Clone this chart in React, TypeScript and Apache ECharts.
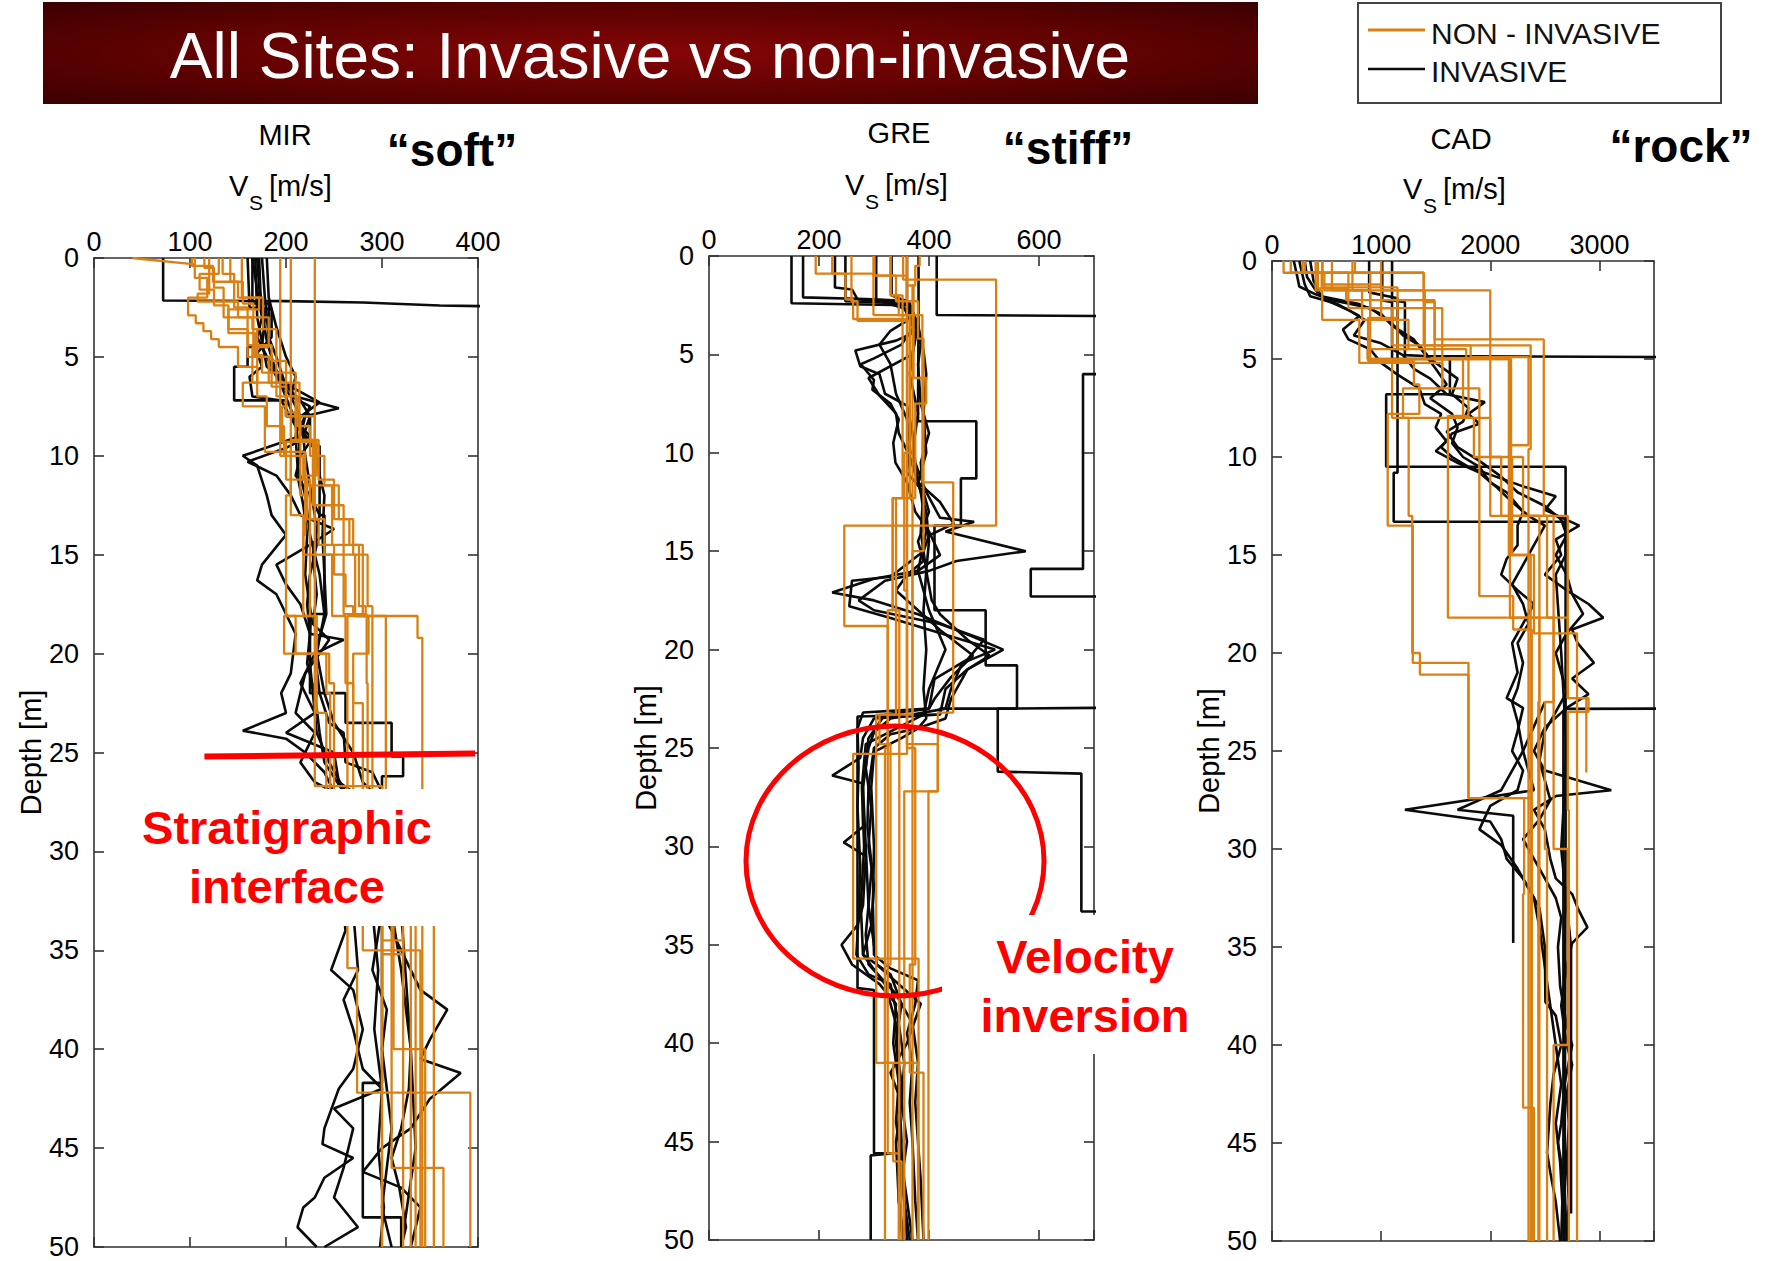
import React, { useEffect, useRef } from "react";
import * as echarts from "echarts";

type Pt = [number, number];

// ---------- texts ----------
const titleText = "All Sites: Invasive vs non-invasive";
const legendLabels = ["NON - INVASIVE", "INVASIVE"];
const panelNames = ["MIR", "GRE", "CAD"];
const panelTags = ["“soft”", "“stiff”", "“rock”"];
const depthName = "Depth [m]";
const annotation1 = ["Stratigraphic", "interface"];
const annotation2 = ["Velocity", "inversion"];

// ---------- axes ----------
const depthTicks = { min: 0, max: 50, interval: 5 };
const mirVsTicks = { min: 0, max: 400, interval: 100 };
const greVsTicks = { min: 0, max: 700, interval: 200 };
const cadVsTicks = { min: 0, max: 3500, interval: 1000 };

// ---------- MIR ("soft") : [Vs, bottom depth] layers ----------
const mirOrangeSteps: Pt[][] = [
  [[130, 0.8], [110, 1.6], [125, 2.4], [140, 3.6], [160, 5.0], [185, 6.5], [200, 8.0], [215, 9.2], [234, 11.2], [250, 13.2], [266, 14.5], [280, 18.1], [337, 19.2], [342, 35.2], [342, 50]],
  [[105, 1.0], [118, 2.0], [98, 2.9], [106, 3.3], [114, 3.7], [122, 4.1], [130, 4.5], [150, 5.5], [170, 7.0], [180, 8.5], [198, 10], [218, 11.2], [222, 13.2], [234, 14.5], [250, 16], [262, 17.6], [270, 18.1], [304, 20], [304, 27], [300, 50]],
  [[142, 1.2], [155, 2.3], [166, 4.9], [175, 5.8], [190, 7.0], [212, 8.5], [225, 10], [240, 11.5], [255, 13.2], [270, 15], [285, 17.6], [290, 20], [290, 27], [264, 35.9], [274, 42.2], [392, 50]],
  [[230, 26.7], [300, 34.5], [322, 50]],
  [[194, 10], [205, 13], [218, 15], [225, 18.1], [198, 20], [245, 21.5], [250, 27], [330, 50]],
  [[205, 9.2], [215, 12], [225, 15], [248, 18.1], [262, 21.5], [270, 27], [354, 50]],
  [[115, 0.5], [125, 1.5], [135, 3.0], [165, 3.6], [190, 5.8], [210, 8.0], [230, 9.3], [200, 11.2], [225, 13.2], [240, 15], [260, 18], [284, 21.5], [285, 27], [310, 46], [364, 50]],
  [[102, 0.4], [124, 1.2], [150, 2.0], [176, 3.6], [170, 6.3], [155, 7.5], [178, 9.8], [220, 11.5], [248, 14.5], [276, 17.6], [283, 18.1], [264, 21.4], [264, 27], [280, 35], [340, 50]],
  [[120, 1.8], [108, 2.2], [150, 3.0], [182, 4.5], [165, 6.3], [200, 7.5], [196, 9.3], [205, 12], [200, 18.1], [210, 20], [242, 22], [246, 27], [322, 35.2], [300, 50]],
  [[154, 2.0], [172, 2.6], [140, 3.8], [168, 5], [182, 6.3], [214, 9.3], [232, 11], [220, 14], [218, 18.1], [232, 23], [242, 27], [335, 50]],
  [[134, 0.8], [146, 2.5], [160, 4.4], [185, 5.2], [200, 7.8], [210, 9.2], [228, 12.5], [260, 15], [272, 18.1], [286, 20], [270, 22.5], [280, 27], [312, 40], [345, 50]],
];
const mirOrangeLines: Pt[][] = [
  [[40, 0], [100, 0.3], [106, 0.35]],
];
const mirBlackLines: Pt[][] = [
  [[72, 0], [72, 2.15], [200, 2.18], [280, 2.25], [360, 2.4], [420, 2.45]],
  [[165, 0], [168, 1], [172, 2.2], [175, 3], [170, 4], [180, 5], [195, 6], [210, 7], [255, 7.6], [220, 8], [215, 9], [155, 10], [170, 10.5], [180, 12], [185, 13], [200, 14], [175, 15.5], [170, 16.3], [190, 17], [200, 18], [210, 19], [205, 21], [195, 22], [200, 23], [155, 23.9], [200, 24.3], [220, 25], [240, 26], [250, 27], [260, 33], [262, 34], [247, 36], [270, 37], [280, 39], [270, 41], [255, 42], [240, 44], [238, 44.8], [270, 45.5], [240, 46.5], [230, 47.5], [218, 48], [212, 49], [232, 50]],
  [[170, 0], [172, 1.5], [178, 3], [175, 4.5], [190, 6], [205, 7], [225, 7.5], [215, 8.5], [225, 9], [200, 9.6], [160, 10.3], [190, 11], [205, 12], [215, 13], [250, 13.7], [225, 14.5], [190, 15.5], [200, 16.5], [215, 17.5], [225, 19], [260, 19.3], [230, 20], [215, 21.5], [230, 23], [200, 24], [250, 25], [255, 26.5], [270, 27], [300, 33], [330, 36], [340, 37], [368, 38], [350, 39.5], [340, 40.5], [382, 41.2], [350, 42.5], [330, 44], [300, 45], [280, 46.2], [320, 47], [340, 48], [330, 50]],
  [[175, 0], [178, 2], [182, 4], [190, 5], [200, 6.5], [215, 7.2], [225, 8], [218, 9], [220, 10], [225, 11.5], [230, 13], [232, 14.5], [225, 16], [222, 17.5], [225, 19], [222, 20.5], [230, 22], [235, 24], [240, 25.5], [260, 27], [300, 33], [290, 36], [305, 38], [300, 40], [305, 42], [310, 44], [305, 46], [300, 48], [310, 50]],
  [[160, 0], [162, 2.5], [185, 2.6], [185, 4], [170, 4.8], [175, 5.5], [162, 6], [165, 7.0], [195, 7.2], [210, 8.5], [230, 9.5], [235, 11], [240, 12], [238, 14], [240, 16], [242, 18], [230, 20], [235, 22], [245, 23.5], [260, 24], [262, 25.5], [290, 26], [300, 27], [320, 33], [330, 40], [335, 45], [320, 50]],
  [[168, 0], [170, 3], [180, 5.5], [205, 6.5], [235, 7.3], [210, 8.2], [225, 9.3], [215, 10], [210, 11], [225, 12], [235, 13], [228, 15], [232, 17], [228, 18.5], [245, 19.3], [235, 20], [220, 21], [215, 22], [210, 23], [230, 24], [215, 25.5], [230, 26.5], [250, 27], [270, 33], [275, 36], [260, 37.5], [270, 39], [280, 41], [300, 42], [250, 43], [270, 44], [260, 46], [250, 47.5], [275, 49], [240, 50]],
  [[180, 0], [182, 2], [190, 3.5], [200, 5], [210, 6], [205, 7], [215, 8], [210, 9], [212, 10.5], [220, 12], [225, 14], [235, 16], [240, 18], [232, 20], [240, 22], [250, 23.5], [270, 25], [280, 26.5], [290, 27], [310, 33], [320, 36], [325, 38], [330, 40], [328, 42], [320, 44], [310, 45.5], [318, 47], [325, 49], [320, 50]],
  [[172, 0], [174, 2.5], [180, 4.2], [188, 5.5], [198, 6.8], [208, 8], [214, 9.5], [212, 11], [218, 12.5], [222, 14], [220, 16], [226, 18], [224, 20], [228, 22], [232, 24], [245, 25.5], [262, 27], [290, 33], [296, 36], [292, 39], [300, 42], [296, 45], [302, 48], [298, 50]],
];
const mirBlackSteps: Pt[][] = [
  [[165, 2.3], [182, 4.5], [160, 5.5], [146, 7.2], [200, 8], [225, 9.5], [235, 13], [240, 18], [225, 22], [262, 23.5], [310, 25.2], [322, 26.2], [300, 34], [300, 41.7], [280, 48.5], [320, 50]],
];
const mirInterfaceLine: Pt[] = [[115, 25.2], [397, 25.05]];

// ---------- GRE ("stiff") ----------
const greOrangeSteps: Pt[][] = [
  [[194, 0.9], [259, 2.3], [270, 3.3], [365, 12.3], [334, 18.0], [325, 45.6], [345, 50]],
  [[224, 0.9], [248, 2.2], [262, 3.2], [360, 25.3], [262, 35.7], [381, 50]],
  [[353, 1.2], [522, 13.7], [246, 18.8], [325, 25.0], [320, 50]],
  [[330, 2.0], [345, 3.0], [388, 11.5], [444, 23.2], [416, 27.2], [399, 50]],
  [[301, 1.0], [360, 1.5], [372, 6.2], [395, 7.5], [375, 12.3], [340, 23.3], [304, 41.0], [380, 50]],
  [[383, 0.5], [375, 1.5], [370, 50]],
  [[259, 0.9], [299, 3.0], [365, 10], [355, 17], [360, 25], [375, 36], [365, 41.5], [390, 50]],
  [[299, 1.0], [340, 2.3], [380, 4.2], [390, 15], [370, 23.3], [310, 24.8], [330, 36], [320, 41], [335, 46], [350, 50]],
  [[360, 24.8], [416, 27.2], [355, 50]],
  [[330, 2.0], [352, 12.3], [334, 18], [346, 50]],
];
const greBlackLines: Pt[][] = [
  [[150, 0], [150, 2.4], [360, 2.5], [375, 3.5], [350, 4.5], [300, 5.2], [276, 5.5], [300, 6.3], [297, 6.8], [330, 7.5], [345, 8.3], [335, 9.5], [339, 10.5], [360, 11.5], [375, 13], [400, 14], [420, 15.2], [380, 16], [300, 16.4], [224, 17.1], [300, 17.5], [380, 18.2], [450, 19], [535, 20], [470, 21], [430, 22], [420, 23.3], [300, 23.5], [280, 24.5], [275, 25.5], [224, 26.4], [280, 26.8], [280, 29], [245, 29.8], [285, 30.5], [280, 33], [270, 34], [241, 35], [260, 36], [310, 37], [340, 38], [335, 40], [345, 42], [340, 44], [350, 46], [355, 48], [360, 50]],
  [[171, 0], [171, 2.1], [300, 2.2], [360, 2.7], [380, 3.8], [340, 4.3], [266, 4.8], [275, 5.6], [310, 6.0], [320, 7.0], [360, 7.6], [370, 9], [375, 10.5], [395, 12], [420, 13.3], [482, 13.5], [430, 14], [576, 15], [450, 15.5], [400, 16], [320, 16.5], [272, 17.5], [300, 18], [420, 18.7], [500, 19.5], [470, 20.5], [410, 21.5], [400, 23], [320, 23.3], [290, 24.5], [285, 26], [295, 28], [290, 30], [300, 32], [295, 34], [280, 35.5], [330, 36.5], [350, 38], [340, 40], [350, 42], [345, 44], [355, 47], [370, 50]],
  [[229, 0], [229, 1.6], [260, 1.7], [270, 2.2], [365, 2.4], [380, 3.5], [370, 5], [290, 6.2], [310, 7.1], [340, 8.0], [345, 9], [365, 10.2], [380, 11.5], [420, 12.5], [445, 13.6], [400, 14.2], [390, 15], [330, 16.3], [260, 16.5], [255, 17.8], [330, 18.4], [460, 19.5], [520, 20], [460, 20.7], [440, 22], [430, 23], [330, 23.5], [300, 24.2], [290, 25], [280, 27], [285, 30], [290, 33], [300, 35], [305, 36], [345, 37], [385, 38], [360, 40], [330, 41.5], [350, 43], [340, 45], [345, 48], [355, 50]],
  [[248, 0], [248, 2.3], [350, 2.4], [365, 3.2], [330, 3.8], [310, 4.5], [330, 5.5], [340, 7], [360, 8.3], [365, 9.5], [360, 11], [390, 12], [400, 13], [380, 14.5], [390, 15.5], [360, 16.2], [340, 17], [380, 18], [420, 19], [480, 20.3], [440, 21.4], [410, 22.5], [400, 23], [280, 23.2], [270, 24], [272, 26], [270, 28], [275, 31], [272, 33.5], [268, 35.5], [290, 36.5], [330, 37], [345, 39], [355, 41], [350, 43], [360, 45], [350, 47], [365, 50]],
  [[304, 0], [304, 2.2], [360, 2.3], [380, 3.5], [390, 4.8], [395, 6], [390, 8], [395, 10], [380, 11.5], [395, 13], [400, 14.5], [395, 16], [405, 17.5], [420, 18.2], [470, 19.5], [510, 20.3], [470, 21], [440, 22.5], [430, 23.5], [380, 24], [330, 24.3], [300, 25], [290, 27], [288, 29], [296, 31], [290, 33], [285, 34.5], [290, 36], [340, 37.5], [370, 39], [380, 41], [375, 43], [380, 45], [385, 47], [390, 50]],
  [[332, 0], [332, 2.0], [360, 2.3], [372, 3.2], [385, 4.5], [380, 5.5], [385, 7.5], [400, 9], [385, 10.5], [390, 12], [385, 14], [395, 16], [390, 18], [395, 20], [390, 22], [395, 23.5], [380, 24], [350, 24.5], [300, 25.2], [295, 27], [300, 30], [298, 33], [300, 35.5], [330, 36.2], [380, 36.8], [375, 38], [360, 39.5], [370, 41], [365, 43], [370, 45], [375, 48], [380, 50]],
  [[381, 0], [381, 2.8], [380, 8.4], [486, 8.4], [486, 11.3], [458, 11.3], [458, 13.7], [410, 13.7], [410, 18.0], [503, 18.0], [503, 20.8], [560, 20.8], [560, 23.0], [420, 23.0], [420, 23.3], [270, 23.4], [270, 37.2], [300, 37.3], [300, 45.6], [332, 45.6], [294, 45.7], [294, 50]],
  [[414, 0], [414, 3.0], [1000, 3.1], [1000, 6.0], [680, 6.0], [680, 15.9], [585, 15.9], [585, 17.3], [1000, 17.3], [1000, 22.9], [525, 23.0], [525, 26.2], [677, 26.3], [677, 33.3], [1000, 33.4]],
  [[360, 0], [360, 2.6], [375, 4], [365, 6], [380, 8], [370, 10], [385, 12], [395, 14], [380, 16], [400, 18], [430, 20], [400, 22], [390, 23.3], [285, 24.8], [278, 27], [282, 30], [276, 33], [280, 35.5], [320, 37], [340, 39], [345, 42], [350, 45], [345, 48], [352, 50]],
];

// ---------- CAD ("rock") ----------
const cadOrangeSteps: Pt[][] = [
  [[172, 0.6], [1390, 2.1], [1490, 5.0], [2170, 15.0], [2370, 50]],
  [[463, 0.6], [480, 1.5], [2000, 10.0], [2300, 13.0], [2450, 17], [2450, 50]],
  [[549, 1.5], [825, 3.0], [1250, 4.5], [875, 5.0], [1100, 8.0], [1252, 13.0], [1285, 20.0], [1355, 21.1], [1800, 27.4], [2310, 32.3], [2300, 43.2], [2400, 50]],
  [[737, 1.5], [900, 5.0], [1800, 7.9], [1612, 13.0], [1612, 18.2], [2710, 22.3], [2880, 26.1]],
  [[400, 1.5], [460, 3.0], [800, 5.2], [1560, 6.5], [1900, 17.1], [2210, 18.8], [2380, 50]],
  [[300, 0.6], [700, 2.4], [1100, 4.3], [2370, 6.5], [2370, 9.6], [2350, 50]],
  [[420, 1.4], [680, 2.0], [1490, 4.0], [2490, 5.6], [2490, 13.0], [2580, 30], [2710, 40], [2580, 50]],
  [[460, 1.2], [1000, 3.0], [1150, 4.5], [1780, 5.0], [2190, 10.0], [2200, 15.0], [2400, 19], [2795, 29.4], [2795, 50]],
  [[280, 0.6], [900, 2.4], [1560, 6.5], [1200, 8.0], [1850, 10], [2100, 13], [2520, 18.2], [2580, 22.5], [2500, 30], [2520, 50]],
  [[1000, 1.5], [1400, 5], [1750, 8], [2000, 13], [2710, 22.3], [2900, 23], [2710, 28], [2720, 50]],
  [[106, 0.6], [455, 1.35], [1150, 2.9], [880, 5.1], [1300, 6.3], [1350, 7.8], [1060, 13.5], [1290, 20.5], [1800, 27.4], [2380, 50]],
  [[760, 0.6], [1390, 4.3], [1820, 4.9], [2350, 9.4], [2180, 18.2], [2450, 22.5], [2440, 50]],
];
const cadBlackLines: Pt[][] = [
  [[250, 0], [270, 0.5], [300, 1.2], [350, 1.8], [600, 2.2], [800, 2.8], [650, 3.5], [700, 4.0], [900, 4.5], [1000, 5.2], [1150, 5.8], [1350, 6.5], [1400, 7.3], [1550, 7.8], [1500, 8.5], [1600, 9.2], [1500, 9.7], [1700, 10.3], [1900, 10.8], [2050, 11.5], [2200, 12.3], [2350, 13], [2500, 13.5], [2400, 14.5], [2300, 15.5], [2200, 16.5], [2300, 17.5], [2350, 18.5], [2250, 19.5], [2300, 20.5], [2250, 21.8], [2200, 22.5], [2250, 23.5], [2300, 25], [2350, 26], [2400, 27], [1218, 28.0], [2000, 28.6], [2100, 29.5], [2150, 30.5], [2300, 31.5], [2400, 32.5], [2450, 34], [2500, 36], [2550, 38], [2600, 40], [2650, 42], [2600, 44], [2640, 46], [2660, 48], [2650, 50]],
  [[300, 0], [320, 0.8], [400, 1.5], [500, 2.0], [700, 2.5], [850, 3.0], [750, 3.8], [1000, 4.2], [1200, 4.8], [1300, 5.5], [1450, 6.0], [1600, 6.8], [1950, 7.2], [1800, 7.8], [1900, 8.3], [1650, 8.8], [1550, 9.5], [1650, 10], [1800, 10.5], [2050, 11], [2300, 11.5], [2600, 12.0], [2500, 12.7], [2815, 13.5], [2600, 14.2], [2650, 15], [2500, 16], [2700, 16.8], [2900, 17.5], [3035, 18.2], [2750, 18.8], [2800, 19.5], [2950, 20.5], [2750, 21.3], [2900, 22.1], [2700, 22.8], [2500, 23.8], [2400, 25], [2500, 26], [3108, 27], [2600, 27.3], [2400, 28], [2500, 29], [2550, 30.5], [2600, 31.5], [2750, 32.3], [2800, 33], [2890, 34], [2750, 34.8], [2700, 36], [2650, 38], [2700, 40], [2750, 41], [2700, 42.5], [2720, 44], [2700, 46], [2720, 48], [2700, 50]],
  [[350, 0], [380, 1], [450, 1.8], [800, 2.2], [1000, 2.7], [1100, 3.3], [1300, 4.0], [1500, 5.5], [1600, 6.3], [1450, 7.0], [1650, 7.8], [1700, 8.5], [1650, 9.3], [1750, 10], [1900, 10.5], [2000, 11.3], [2150, 11.8], [2300, 12.8], [2250, 13.5], [2250, 14.5], [2150, 15.2], [2100, 16], [2250, 16.8], [2400, 17.5], [2300, 18.5], [2200, 19.5], [2250, 21], [2150, 22.3], [2300, 22.8], [2250, 24], [2200, 25], [2300, 26], [2250, 27], [2000, 27.8], [1900, 29], [2100, 29.8], [2250, 31], [2350, 32], [2450, 33], [2500, 35], [2505, 37.8], [2600, 38.5], [2650, 40], [2580, 41.5], [2550, 43], [2520, 45.5], [2550, 46.5], [2600, 48], [2640, 50]],
  [[200, 0], [220, 0.5], [250, 1.3], [400, 1.7], [550, 2.0], [900, 2.4], [1100, 3.2], [1200, 3.8], [1350, 4.3], [1450, 5.0], [1700, 6.0], [1650, 6.8], [1800, 7.5], [1750, 8.2], [1600, 8.7], [1700, 9.5], [1900, 10.2], [2100, 11], [2250, 11.8], [2500, 12.5], [2650, 13.2], [2700, 14], [2600, 15], [2700, 16], [2750, 17], [2850, 18], [2700, 19], [2600, 20], [2650, 21], [2700, 22], [2600, 23], [2500, 24], [2450, 25.5], [2500, 26.5], [2550, 27.5], [2450, 28.5], [2300, 29.5], [2400, 30.5], [2500, 31.5], [2600, 32.5], [2650, 33.5], [2620, 35], [2640, 37], [2700, 39], [2750, 40], [2680, 42], [2650, 44], [2620, 45], [2680, 47], [2700, 50]],
  [[1010, 0], [1010, 2.0], [1100, 2.1], [1100, 5.0], [1630, 5.0], [1630, 6.8], [1046, 6.8], [1046, 10.5], [2690, 10.5], [2690, 22.7], [2670, 23], [2670, 50]],
  [[1100, 0], [1100, 2.0], [1218, 2.1], [1218, 4.8], [1400, 4.85], [6000, 4.95], [6000, 22.8], [2690, 22.85], [2690, 30], [2680, 50]],
  [[890, 0], [890, 1.6], [1150, 1.9], [1150, 10.8], [1115, 10.8], [1115, 13.3], [2690, 13.3], [2690, 15], [2600, 16], [2650, 20], [2700, 25], [2650, 30], [2740, 35], [2740, 48.6]],
  [[2500, 22.5], [2300, 25], [2100, 27], [1700, 28], [2210, 28.3], [2210, 34.8]],
];

// ---------- style constants ----------
const FF = "Liberation Sans, Arial, Helvetica, sans-serif";
const ORANGE = "#DA8013";
const BLACK = "#0b0b0b";
const AXIS = "#333333";
const RED = "#ff0000";

function stepsToLine(layers: Pt[]): Pt[] {
  const pts: Pt[] = [];
  let top = 0;
  for (const [v, bottom] of layers) {
    pts.push([v, top]);
    pts.push([v, bottom]);
    top = bottom;
  }
  return pts;
}

const panels = [
  { grid: { left: 94, top: 258, width: 384, height: 989 }, vs: mirVsTicks, orangeSteps: mirOrangeSteps, orangeLines: mirOrangeLines, blackLines: mirBlackLines, blackSteps: mirBlackSteps, nameGap: 48, showMax: true },
  { grid: { left: 709, top: 256, width: 385, height: 984 }, vs: greVsTicks, orangeSteps: greOrangeSteps, orangeLines: [] as Pt[][], blackLines: greBlackLines, blackSteps: [] as Pt[][], nameGap: 47, showMax: false },
  { grid: { left: 1272, top: 261, width: 382, height: 980 }, vs: cadVsTicks, orangeSteps: cadOrangeSteps, orangeLines: [] as Pt[][], blackLines: cadBlackLines, blackSteps: [] as Pt[][], nameGap: 48, showMax: false },
];

function buildOption(): any {
  const grid: any[] = [];
  const xAxis: any[] = [];
  const yAxis: any[] = [];
  const series: any[] = [];
  const axisLine = { show: true, onZero: false, lineStyle: { color: AXIS, width: 1.6 } };
  const tick = { show: true, inside: true, length: 10, lineStyle: { color: AXIS, width: 1.6 } };
  const plain = (v: number) => String(v);

  panels.forEach((p, i) => {
    grid.push({ ...p.grid, containLabel: false });
    xAxis.push({
      type: "value", gridIndex: i, position: "top", min: p.vs.min, max: p.vs.max, interval: p.vs.interval,
      axisLine, axisTick: tick, splitLine: { show: false },
      axisLabel: { show: true, fontSize: 27, fontFamily: FF, color: "#000", margin: 3, showMaxLabel: p.showMax, formatter: plain },
    });
    xAxis.push({
      type: "value", gridIndex: i, position: "bottom", min: p.vs.min, max: p.vs.max, interval: p.vs.interval,
      axisLine, axisTick: tick, splitLine: { show: false }, axisLabel: { show: false },
    });
    yAxis.push({
      type: "value", gridIndex: i, position: "left", inverse: true, min: depthTicks.min, max: depthTicks.max, interval: depthTicks.interval,
      axisLine, axisTick: tick, splitLine: { show: false },
      axisLabel: { show: true, fontSize: 27, fontFamily: FF, color: "#000", margin: 15, formatter: plain },
      name: depthName, nameLocation: "middle", nameRotate: 90, nameGap: p.nameGap,
      nameTextStyle: { fontSize: 29, fontFamily: FF, color: "#000" },
    });
    yAxis.push({
      type: "value", gridIndex: i, position: "right", inverse: true, min: depthTicks.min, max: depthTicks.max, interval: depthTicks.interval,
      axisLine, axisTick: tick, splitLine: { show: false }, axisLabel: { show: false },
    });
    const xi = 2 * i;
    const yi = 2 * i;
    const base = { type: "line", xAxisIndex: xi, yAxisIndex: yi, symbol: "none", silent: true, clip: true, animation: false };
    p.blackLines.forEach((d) => series.push({ ...base, data: d, z: 2, lineStyle: { color: BLACK, width: 2.6 } }));
    p.blackSteps.forEach((d) => series.push({ ...base, data: stepsToLine(d), z: 2, lineStyle: { color: BLACK, width: 2.6 } }));
    p.orangeSteps.forEach((d) => series.push({ ...base, data: stepsToLine(d), z: 3, lineStyle: { color: ORANGE, width: 2.3 } }));
    p.orangeLines.forEach((d) => series.push({ ...base, data: d, z: 3, lineStyle: { color: ORANGE, width: 2.3 } }));
  });
  series.push({ type: "line", xAxisIndex: 0, yAxisIndex: 0, symbol: "none", silent: true, data: mirInterfaceLine, z: 6, lineStyle: { color: RED, width: 6 } });

  const T = (text: string, x: number, y: number, size: number, opts: any = {}) => ({
    type: "text", x, y, z: opts.z ?? 20,
    style: {
      text, fill: opts.fill ?? "#000", fontSize: size, fontFamily: FF, fontWeight: opts.bold ? "bold" : "normal",
      align: opts.align ?? "center", verticalAlign: "middle", textAlign: opts.align ?? "center", textVerticalAlign: "middle",
    },
  });
  const vsLabel = (left: number, y: number) => [
    T("V", left, y, 29, { align: "left" }),
    T("S", left + 20, y + 16, 21, { align: "left" }),
    T("[m/s]", left + 40, y, 29, { align: "left" }),
  ];

  const banner = new echarts.graphic.RadialGradient(0.5, 0.5, 0.75, [
    { offset: 0, color: "#860606" },
    { offset: 0.6, color: "#5a0101" },
    { offset: 1, color: "#350000" },
  ]);

  const graphic: any[] = [
    { type: "rect", shape: { x: 43, y: 2, width: 1215, height: 102 }, style: { fill: banner }, z: 10 },
    T(titleText, 650, 56, 64, { fill: "#ffffff", z: 11 }),
    { type: "rect", shape: { x: 1358, y: 3, width: 363, height: 100 }, style: { fill: "#fff", stroke: "#444", lineWidth: 2 }, z: 10 },
    { type: "line", shape: { x1: 1368, y1: 30, x2: 1425, y2: 30 }, style: { stroke: ORANGE, lineWidth: 3 }, z: 11 },
    { type: "line", shape: { x1: 1368, y1: 69, x2: 1425, y2: 69 }, style: { stroke: BLACK, lineWidth: 2.5 }, z: 11 },
    T(legendLabels[0], 1431, 33, 30, { align: "left", fill: "#111" }),
    T(legendLabels[1], 1431, 71, 30, { align: "left", fill: "#111" }),
    T(panelNames[0], 285, 135, 29),
    T(panelNames[1], 899, 133, 29),
    T(panelNames[2], 1461, 139, 29),
    ...vsLabel(229, 186),
    ...vsLabel(845, 185),
    ...vsLabel(1403, 189),
    T(panelTags[0], 452, 150, 46, { bold: true }),
    T(panelTags[1], 1068, 148, 46, { bold: true }),
    T(panelTags[2], 1681, 146, 46, { bold: true }),
    // Stratigraphic interface
    { type: "rect", shape: { x: 130, y: 789, width: 308, height: 137 }, style: { fill: "#ffffff" }, z: 30 },
    T(annotation1[0], 287, 827, 47, { bold: true, fill: RED, z: 31 }),
    T(annotation1[1], 287, 886, 47, { bold: true, fill: RED, z: 31 }),
    // Velocity inversion
    { type: "ellipse", shape: { cx: 895, cy: 861, rx: 149, ry: 135 }, style: { fill: "none", stroke: RED, lineWidth: 5 }, z: 30 },
    { type: "rect", shape: { x: 942, y: 915, width: 263, height: 139 }, style: { fill: "#ffffff" }, z: 31 },
    T(annotation2[0], 1085, 956, 47, { bold: true, fill: RED, z: 32 }),
    T(annotation2[1], 1085, 1015, 47, { bold: true, fill: RED, z: 32 }),
  ];

  return { animation: false, backgroundColor: "#ffffff", grid, xAxis, yAxis, series, graphic };
}

export default function App() {
  const ref = useRef<HTMLDivElement>(null);
  useEffect(() => {
    document.body.style.margin = "0";
    const chart = echarts.init(ref.current!, undefined, { renderer: "svg" });
    chart.setOption(buildOption());
    return () => chart.dispose();
  }, []);
  return <div ref={ref} style={{ position: "absolute", left: 0, top: 0, width: 1766, height: 1261, background: "#fff" }} />;
}
